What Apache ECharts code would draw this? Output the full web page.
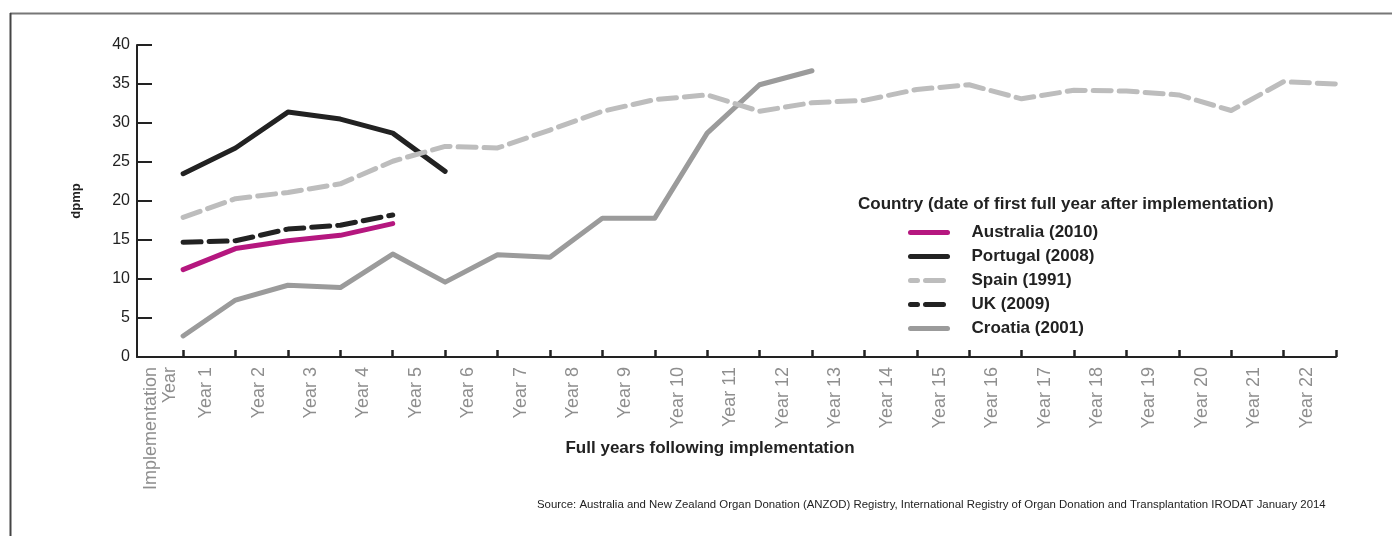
<!DOCTYPE html>
<html>
<head>
<meta charset="utf-8">
<script src="https://cdn.jsdelivr.net/npm/echarts@6/dist/echarts.min.js"></script>
<style>
html, body { margin: 0; padding: 0; background: #fff; }
#chart { width: 1392px; height: 536px; }
</style>
</head>
<body>
<div id="chart"></div>
<script>
// tick labels and where they sit on the x scale
var tickLabels = ['Implementation\nYear', 'Year 1', 'Year 2', 'Year 3', 'Year 4', 'Year 5', 'Year 6',
    'Year 7', 'Year 8', 'Year 9', 'Year 10', 'Year 11', 'Year 12', 'Year 13', 'Year 14', 'Year 15',
    'Year 16', 'Year 17', 'Year 18', 'Year 19', 'Year 20', 'Year 21', 'Year 22'];
var labelPos = [0.12, 1, 2, 3, 4, 5, 6, 7, 8, 9, 10, 11, 12, 13, 14, 15, 16, 17, 18, 19, 20, 21, 22];
var years = [1, 2, 3, 4, 5, 6, 7, 8, 9, 10, 11, 12, 13, 14, 15, 16, 17, 18, 19, 20, 21, 22, 23];

// dpmp per year
var australia = [11.2, 13.9, 14.9, 15.6, 17.1];
var portugal = [23.5, 26.8, 31.4, 30.5, 28.7, 23.8];
var spain = [17.9, 20.3, 21.1, 22.2, 25.1, 27.0, 26.8, 29.1, 31.5, 33.0, 33.6, 31.5,
    32.6, 32.9, 34.3, 34.9, 33.1, 34.2, 34.1, 33.6, 31.6, 35.3, 35.0];
var uk = [14.7, 14.9, 16.4, 16.9, 18.2];
var croatia = [2.7, 7.3, 9.2, 8.9, 13.2, 9.6, 13.1, 12.8, 17.8, 17.8, 28.7, 34.9, 36.7];

var font = '"Liberation Sans", Arial, sans-serif';

function pairs(vals) {
    var res = [];
    for (var i = 0; i < vals.length; i++) {
        res.push([years[i], vals[i]]);
    }
    return res;
}

function lineSeries(name, vals, color, dashed) {
    return {
        name: name,
        type: 'line',
        symbol: 'none',
        data: pairs(vals),
        lineStyle: {
            color: color,
            width: 5,
            type: dashed ? [18, 8] : 'solid',
            cap: 'round',
            join: 'round'
        },
        itemStyle: { color: color }
    };
}

var xMin = 0.12, xMax = 23, shift = 0.44;

var chart = echarts.init(document.getElementById('chart'));
chart.setOption({
    animation: false,
    grid: { left: 137, right: 56, top: 45, bottom: 179 },
    xAxis: [{
        type: 'value',
        min: xMin,
        max: xMax,
        position: 'bottom',
        splitLine: { show: false },
        axisLine: { onZero: false, lineStyle: { color: '#222', width: 2 } },
        axisTick: { inside: true, length: 7, customValues: years, lineStyle: { color: '#222', width: 2.5 } },
        axisLabel: { show: false },
        name: 'Full years following implementation',
        nameLocation: 'middle',
        nameGap: 83,
        nameTextStyle: { fontFamily: font, fontSize: 17, fontWeight: 'bold', color: '#222', padding: [0, 53, 0, 0] }
    }, {
        // label-only axis, labels sit a little right of their ticks
        type: 'value',
        min: xMin - shift,
        max: xMax - shift,
        position: 'bottom',
        splitLine: { show: false },
        axisLine: { show: false },
        axisTick: { show: false },
        axisLabel: {
            customValues: labelPos,
            rotate: 90,
            margin: 10,
            fontFamily: font,
            fontSize: 18,
            lineHeight: 19,
            color: '#8e8e8e',
            formatter: function (v) {
                var i = labelPos.indexOf(v);
                return i >= 0 ? tickLabels[i] : '';
            }
        }
    }],
    yAxis: {
        type: 'value',
        min: 0,
        max: 40,
        interval: 5,
        splitLine: { show: false },
        axisLine: { show: true, onZero: false, lineStyle: { color: '#222', width: 2 } },
        axisTick: { show: true, inside: true, length: 15, lineStyle: { color: '#222', width: 2 } },
        axisLabel: { fontFamily: font, fontSize: 16, color: '#222', margin: 7 },
        name: 'dpmp',
        nameLocation: 'middle',
        nameGap: 54,
        nameTextStyle: { fontFamily: font, fontSize: 13, fontWeight: 'bold', color: '#222' }
    },
    legend: {
        orient: 'vertical',
        left: 903,
        top: 219,
        itemWidth: 37,
        itemHeight: 20,
        itemGap: 7,
        selectedMode: false,
        itemStyle: { opacity: 0 },
        lineStyle: { width: 5, cap: 'round' },
        textStyle: { fontFamily: font, fontSize: 17, fontWeight: 'bold', color: '#222', padding: [0, 0, 0, 19] },
        data: [
            { name: 'Australia (2010)' },
            { name: 'Portugal (2008)' },
            { name: 'Spain (1991)', lineStyle: { dashOffset: 11 } },
            { name: 'UK (2009)', lineStyle: { dashOffset: 11 } },
            { name: 'Croatia (2001)' }
        ]
    },
    graphic: [
        { type: 'line', shape: { x1: 10, y1: 13.5, x2: 1392, y2: 13.5 }, style: { stroke: '#777', lineWidth: 2 } },
        { type: 'line', shape: { x1: 10.5, y1: 13, x2: 10.5, y2: 536 }, style: { stroke: '#444', lineWidth: 2 } },
        {
            type: 'text', left: 858, top: 196,
            style: { text: 'Country (date of first full year after implementation)', font: 'bold 17px ' + font, fill: '#222' }
        },
        {
            type: 'text', left: 537, top: 499,
            style: {
                text: 'Source: Australia and New Zealand Organ Donation (ANZOD) Registry, International Registry of Organ Donation and Transplantation IRODAT January 2014',
                font: '11.4px ' + font, fill: '#222'
            }
        }
    ],
    series: [
        lineSeries('Portugal (2008)', portugal, '#222222', false),
        lineSeries('Croatia (2001)', croatia, '#9b9b9b', false),
        lineSeries('Spain (1991)', spain, '#bdbdbd', true),
        lineSeries('UK (2009)', uk, '#222222', true),
        lineSeries('Australia (2010)', australia, '#b5177f', false)
    ]
});
</script>
</body>
</html>
